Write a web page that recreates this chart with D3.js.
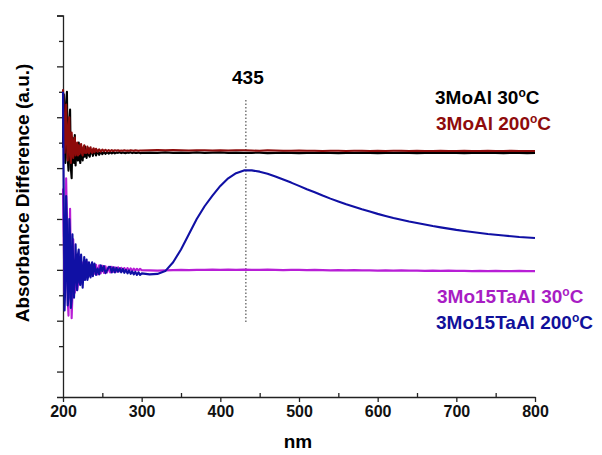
<!DOCTYPE html>
<html>
<head>
<meta charset="utf-8">
<script src="https://cdn.jsdelivr.net/npm/d3@7"></script>
<style>
  body { margin: 0; background: #fff; }
  text { font-family: "Liberation Sans", Arial, sans-serif; font-weight: bold; }
</style>
</head>
<body>
<svg width="602" height="455"></svg>
<script>
// wavelength grid (nm), dense where the signal is noisy
var nm = [
  200,201,202,203,204,205,206,207,208,209,
  210,211,212,213,214,215,216,217,218,219,
  220,221,222,223,224,225,226,227,228,229,
  230,231,232,233,234,235,236,237,238,239,
  240,242,244,246,248,250,252,254,256,258,
  260,262,264,266,268,270,272,274,276,278,
  280,282,284,286,288,290,292,294,296,298,
  300,310,320,330,340,350,360,370,380,390,
  400,410,420,430,440,450,460,470,480,490,
  500,510,520,530,540,550,560,570,580,590,
  600,610,620,630,640,650,660,670,680,690,
  700,710,720,730,740,750,760,770,780,790,
  800
];

// 3MoAl 30C
var moAl30 = [
  9.8, 11.9, 10.6, 9.2, 11.6, 12.0, 9.4, 8.9, 10.8, 11.3,
  9.0, 8.6, 10.2, 9.6, 9.2, 10.3, 9.1, 9.9, 9.5, 9.3,
  10.0, 9.4, 9.2, 9.85, 9.6, 9.3, 9.75, 9.45, 9.85, 9.5,
  9.4, 9.7, 9.78, 9.5, 9.45, 9.7, 9.58, 9.66, 9.48, 9.62,
  9.7, 9.5, 9.68, 9.52, 9.66, 9.55, 9.64, 9.56, 9.63, 9.57,
  9.62, 9.58, 9.63, 9.58, 9.61, 9.6, 9.62, 9.59, 9.61, 9.6,
  9.59, 9.61, 9.6, 9.62, 9.59, 9.61, 9.6, 9.6, 9.61, 9.59,
  9.6, 9.61, 9.6, 9.62, 9.6, 9.61, 9.6, 9.62, 9.6, 9.61,
  9.62, 9.6, 9.61, 9.6, 9.6, 9.61, 9.59, 9.6, 9.61, 9.6,
  9.59, 9.6, 9.6, 9.61, 9.6, 9.59, 9.6, 9.6, 9.61, 9.6,
  9.59, 9.6, 9.6, 9.61, 9.6, 9.59, 9.6, 9.6, 9.6, 9.61,
  9.6, 9.59, 9.6, 9.6, 9.61, 9.6, 9.59, 9.6, 9.6, 9.59,
  9.6
];

// 3MoAl 200C
var moAl200 = [
  12.1, 11.2, 9.6, 10.2, 11.5, 10.1, 9.3, 10.6, 11.0, 9.5,
  9.2, 10.4, 9.8, 9.4, 10.1, 10.2, 9.5, 9.7, 10.0, 9.5,
  9.9, 9.55, 9.7, 9.95, 9.6, 9.5, 9.8, 9.9, 9.6, 9.7,
  9.6, 9.85, 9.7, 9.58, 9.76, 9.82, 9.64, 9.6, 9.74, 9.78,
  9.62, 9.76, 9.64, 9.74, 9.65, 9.73, 9.66, 9.72, 9.66, 9.71,
  9.67, 9.71, 9.67, 9.7, 9.68, 9.7, 9.67, 9.69, 9.68, 9.7,
  9.68, 9.69, 9.68, 9.7, 9.69, 9.68, 9.7, 9.69, 9.68, 9.69,
  9.69, 9.7, 9.71, 9.7, 9.71, 9.7, 9.69, 9.7, 9.7, 9.69,
  9.7, 9.69, 9.7, 9.7, 9.69, 9.68, 9.7, 9.69, 9.68, 9.68,
  9.69, 9.68, 9.68, 9.67, 9.68, 9.68, 9.67, 9.68, 9.68, 9.67,
  9.68, 9.67, 9.68, 9.68, 9.67, 9.68, 9.67, 9.67, 9.68, 9.67,
  9.67, 9.68, 9.67, 9.67, 9.68, 9.67, 9.67, 9.68, 9.67, 9.67,
  9.67
];

// 3Mo15TaAl 30C
var moTa30 = [
  8.2, 6.0, 4.1, 5.5, 8.6, 7.0, 3.8, 3.2, 6.2, 7.4,
  5.0, 3.1, 4.0, 6.2, 4.8, 4.1, 5.3, 5.6, 4.2, 4.4,
  5.4, 5.5, 4.6, 4.5, 5.3, 4.9, 4.6, 5.35, 5.2, 4.7,
  5.0, 5.3, 4.75, 4.9, 5.2, 4.75, 5.05, 5.22, 4.8, 4.95,
  4.85, 5.2, 4.82, 5.18, 4.86, 5.16, 4.88, 5.14, 4.9, 5.12,
  4.9, 5.12, 4.92, 5.1, 4.93, 5.1, 4.94, 5.08, 4.95, 5.07,
  4.95, 5.07, 4.96, 5.06, 4.96, 5.05, 4.97, 5.04, 4.97, 5.04,
  4.99, 4.98, 4.97, 4.98, 4.99, 5.0, 4.99, 5.0, 5.0, 5.01,
  5.0, 5.01, 5.0, 5.01, 5.0, 5.0, 5.01, 5.0, 4.99, 5.0,
  5.0, 4.99, 5.0, 4.99, 4.98, 4.99, 4.98, 4.99, 4.98, 4.98,
  4.97, 4.98, 4.97, 4.98, 4.97, 4.97, 4.96, 4.97, 4.96, 4.97,
  4.96, 4.96, 4.95, 4.96, 4.95, 4.96, 4.95, 4.95, 4.96, 4.95,
  4.95
];

// 3Mo15TaAl 200C
var moTa200 = [
  12.0, 7.5, 3.4, 4.5, 7.9, 6.8, 3.6, 3.9, 7.0, 6.3,
  3.5, 3.8, 6.4, 5.2, 3.9, 4.6, 6.0, 4.8, 4.2, 5.6,
  5.8, 4.5, 4.4, 5.6, 5.1, 4.3, 4.9, 5.5, 4.6, 5.0,
  5.4, 4.6, 4.75, 5.3, 4.9, 4.7, 5.2, 5.3, 4.75, 5.0,
  5.25, 4.8, 5.05, 4.82, 5.18, 4.95, 5.15, 4.87, 4.98, 5.1,
  5.12, 4.9, 5.1, 4.9, 5.08, 4.92, 5.06, 4.9, 5.04, 4.88,
  5.0, 4.86, 4.98, 4.84, 4.94, 4.82, 4.92, 4.8, 4.9, 4.8,
  4.86, 4.82, 4.84, 4.95, 5.3, 5.8, 6.4, 7.0, 7.5, 7.92,
  8.3, 8.6, 8.8, 8.91, 8.91, 8.86, 8.78, 8.67, 8.55, 8.43,
  8.3, 8.17, 8.05, 7.92, 7.8, 7.69, 7.58, 7.48, 7.38, 7.29,
  7.2, 7.12, 7.04, 6.97, 6.9, 6.84, 6.78, 6.72, 6.67, 6.62,
  6.57, 6.53, 6.49, 6.45, 6.41, 6.38, 6.35, 6.32, 6.29, 6.27,
  6.25
];

var xTicks = [200, 300, 400, 500, 600, 700, 800];
var xMinor = [250, 350, 450, 550, 650, 750];
var yMajor = [1, 3, 5, 7, 9, 11, 13, 15];
var yMinor = [2, 4, 6, 8, 10, 12, 14];
var peakNm = 435;
var peakSpan = [2.95, 11.75];

var series = [
  {name: '3MoAl 30', values: moAl30, color: '#000000'},
  {name: '3MoAl 200', values: moAl200, color: '#8e0b0b'},
  {name: '3Mo15TaAl 30', values: moTa30, color: '#b81ed6'},
  {name: '3Mo15TaAl 200', values: moTa200, color: '#1010a4'}
];
var labels = [
  {text: '3MoAl 30', color: '#000000', x: 435, y: 104},
  {text: '3MoAl 200', color: '#8e0b0b', x: 436, y: 130},
  {text: '3Mo15TaAl 30', color: '#a81dc4', x: 437, y: 303},
  {text: '3Mo15TaAl 200', color: '#10109a', x: 436, y: 329}
];

var svg = d3.select('svg');
var x = d3.scaleLinear().domain([200, 800]).range([63, 535]);
var y = d3.scaleLinear().domain([0, 15]).range([397, 15.5]);

// axes
var gy = svg.append('g').attr('transform', 'translate(63,0)');
gy.call(d3.axisLeft(y).tickValues(yMajor).tickSize(6).tickFormat(''));
gy.append('g').call(d3.axisLeft(y).tickValues(yMinor).tickSize(4).tickFormat(''))
  .select('.domain').remove();

var gx = svg.append('g').attr('transform', 'translate(0,397)');
gx.call(d3.axisBottom(x).tickValues(xTicks).tickSize(5).tickSizeOuter(0).tickPadding(4));
gx.append('g').call(d3.axisBottom(x).tickValues(xMinor).tickSize(-4).tickFormat(''))
  .select('.domain').remove();

svg.selectAll('.domain, .tick line').attr('stroke', '#222').attr('stroke-width', 1.3);
gx.selectAll('.tick text')
  .style('font-size', '16px')
  .attr('fill', '#111');

// dotted marker at the band maximum
svg.append('line')
  .attr('x1', x(peakNm) - 2).attr('x2', x(peakNm) - 2)
  .attr('y1', y(peakSpan[0])).attr('y2', y(peakSpan[1]))
  .attr('stroke', '#555').attr('stroke-width', 1.2)
  .attr('stroke-dasharray', '1.5,2');

svg.append('text')
  .attr('x', x(peakNm)).attr('y', 84)
  .attr('text-anchor', 'middle')
  .style('font-size', '19px')
  .text(peakNm);

// spectra
var line = d3.line()
  .x(function(d, i) { return x(nm[i]); })
  .y(function(d) { return y(d); });

svg.selectAll('path.spec')
  .data(series)
  .enter()
  .append('path')
  .attr('class', 'spec')
  .attr('d', function(d) { return line(d.values); })
  .attr('fill', 'none')
  .attr('stroke', function(d) { return d.color; })
  .attr('stroke-width', 2.1)
  .attr('stroke-linejoin', 'round');

// labels next to curves
var lab = svg.selectAll('text.lab')
  .data(labels)
  .enter()
  .append('text')
  .attr('class', 'lab')
  .attr('x', function(d) { return d.x; })
  .attr('y', function(d) { return d.y; })
  .attr('fill', function(d) { return d.color; })
  .style('font-size', '19px');
lab.append('tspan').text(function(d) { return d.text; });
lab.append('tspan').attr('dy', -7).style('font-size', '12px').text('o');
lab.append('tspan').attr('dy', 7).text('C');

// axis titles
svg.append('text')
  .attr('x', 298).attr('y', 448)
  .attr('text-anchor', 'middle')
  .style('font-size', '19px')
  .text('nm');

svg.append('text')
  .attr('transform', 'translate(29,193) rotate(-90)')
  .attr('text-anchor', 'middle')
  .style('font-size', '19px')
  .text('Absorbance Difference (a.u.)');
</script>
</body>
</html>
